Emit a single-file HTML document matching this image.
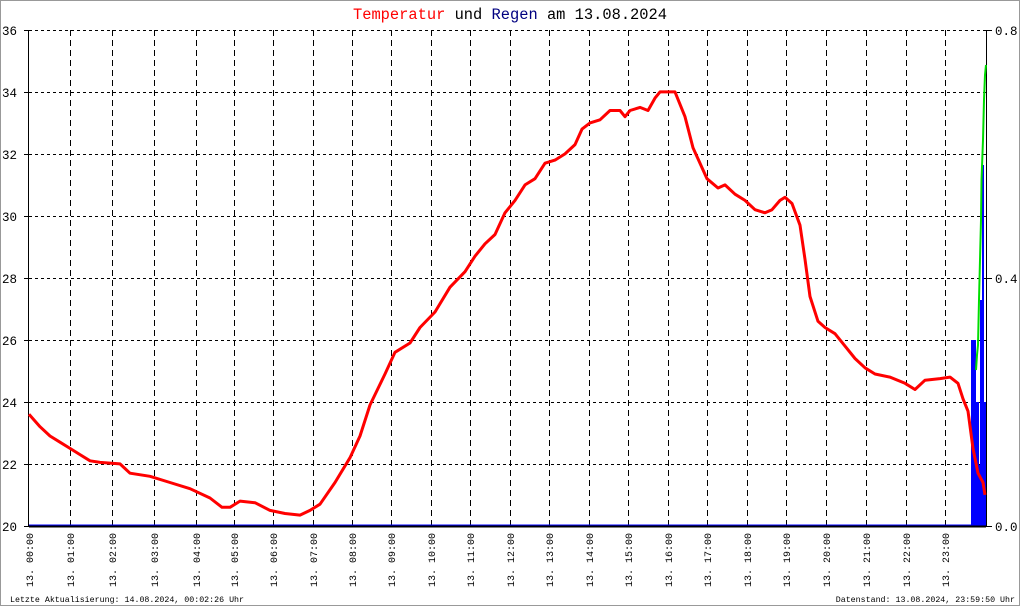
<!DOCTYPE html>
<html><head><meta charset="utf-8"><style>
html,body{margin:0;padding:0;background:#fff}
svg{display:block}
text{font-family:"Liberation Mono","DejaVu Sans Mono",monospace}
</style></head><body>
<svg width="1020" height="606" viewBox="0 0 1020 606" xmlns="http://www.w3.org/2000/svg">
<rect x="0.5" y="0.5" width="1019" height="605" fill="#fff" stroke="#999"/>
<text x="510" y="19" text-anchor="middle" font-size="15.4"><tspan fill="#ff0000">Temperatur</tspan> und <tspan fill="#000080">Regen</tspan> am 13.08.2024</text>
<g stroke="#000" stroke-width="1" stroke-dasharray="3,3" fill="none">
<path d="M29 30.5H986M29 92.5H986M29 154.5H986M29 216.5H986M29 278.5H986M29 340.5H986M29 402.5H986M29 464.5H986"/>
</g>
<g stroke="#000" stroke-width="1" stroke-dasharray="6,4" fill="none">
<path d="M70.5 30V526M112.5 30V526M154.5 30V526M196.5 30V526M234.5 30V526M273.5 30V526M313.5 30V526M352.5 30V526M391.5 30V526M431.5 30V526M470.5 30V526M510.5 30V526M549.5 30V526M589.5 30V526M628.5 30V526M668.5 30V526M707.5 30V526M747.5 30V526M786.5 30V526M826.5 30V526M866.5 30V526M906.5 30V526M945.5 30V526"/>
</g>
<g stroke="#000" stroke-width="1">
<line x1="28.5" y1="30" x2="28.5" y2="527"/>
<line x1="986.5" y1="30" x2="986.5" y2="527"/>
<path d="M24 30.5H29M24 92.5H29M24 154.5H29M24 216.5H29M24 278.5H29M24 340.5H29M24 402.5H29M24 464.5H29M24 526.5H29"/>
<path d="M986 30.5H992M986 278.5H992M986 526.5H992"/>
</g>
<g font-size="12.5" fill="#000">
<text x="2" y="35">36</text><text x="2" y="97">34</text><text x="2" y="159">32</text><text x="2" y="221">30</text><text x="2" y="283">28</text><text x="2" y="345">26</text><text x="2" y="407">24</text><text x="2" y="469">22</text><text x="2" y="531">20</text>
<text x="995" y="35">0.8</text><text x="995" y="283">0.4</text><text x="995" y="531">0.0</text>
</g>
<g fill="#0000ff">
<rect x="971" y="340" width="5" height="186"/>
<rect x="976" y="402" width="3" height="124"/>
<rect x="979" y="465" width="2" height="61"/>
<rect x="980" y="300" width="2" height="226"/>
<rect x="982" y="165" width="2" height="361"/>
<rect x="984" y="402" width="2" height="124"/>
</g>
<polyline fill="none" stroke="#00dd00" stroke-width="2" points="976,370 977,355 978,345 979,300 980,260 981,220 981.5,180 983,140 984,100 985,75 986,65"/>
<line x1="29" y1="525" x2="986" y2="525" stroke="#0000ff" stroke-width="1"/>
<line x1="29" y1="526.5" x2="986" y2="526.5" stroke="#000" stroke-width="2"/>
<polyline fill="none" stroke="#ff0000" stroke-width="3" stroke-linejoin="round" points="29,414.3 40,426.7 50,436 60,442.2 70,448.4 80,454.6 90,460.8 100,462.4 120,463.9 130,473.2 150,476.3 170,482.5 190,488.7 210,498 222,507.3 230,507.3 240,501.1 255,502.7 270,510.4 285,513.5 300,515.1 310,510.4 320,504.2 335,482.5 350,457.7 360,436 370,405 385,374 395,352.3 410,343 420,327.5 435,312 450,287.2 465,271.7 475,256.2 485,243.8 495,234.5 505,212.8 515,200.4 525,184.9 535,178.7 545,163.2 555,160.1 565,153.9 575,144.6 582,129.1 590,122.9 600,119.8 610,110.5 620,110.5 625,116.7 630,110.5 640,107.4 648,110.5 655,98.1 660,91.9 670,91.9 675,91.9 685,116.7 693,147.7 700,163.2 707,178.7 718,188 725,184.9 735,194.2 745,200.4 755,209.7 765,212.8 772,209.7 780,200.4 785,197.3 792,203.5 800,225.2 805,259.3 810,296.5 818,321.3 825,327.5 835,333.7 845,346.1 855,358.5 865,367.8 875,374 890,377.1 905,383.3 915,389.5 925,380.2 940,378.6 950,377.1 958,383.3 963,398.8 968,411.2 973,448.4 978,473.2 983,482.5 985,494.9"/>
<g font-size="10" fill="#000">
<text transform="translate(33,587) rotate(-90)">13. 00:00</text>
<text transform="translate(74,587) rotate(-90)">13. 01:00</text>
<text transform="translate(116,587) rotate(-90)">13. 02:00</text>
<text transform="translate(158,587) rotate(-90)">13. 03:00</text>
<text transform="translate(200,587) rotate(-90)">13. 04:00</text>
<text transform="translate(238,587) rotate(-90)">13. 05:00</text>
<text transform="translate(277,587) rotate(-90)">13. 06:00</text>
<text transform="translate(317,587) rotate(-90)">13. 07:00</text>
<text transform="translate(356,587) rotate(-90)">13. 08:00</text>
<text transform="translate(395,587) rotate(-90)">13. 09:00</text>
<text transform="translate(435,587) rotate(-90)">13. 10:00</text>
<text transform="translate(474,587) rotate(-90)">13. 11:00</text>
<text transform="translate(514,587) rotate(-90)">13. 12:00</text>
<text transform="translate(553,587) rotate(-90)">13. 13:00</text>
<text transform="translate(593,587) rotate(-90)">13. 14:00</text>
<text transform="translate(632,587) rotate(-90)">13. 15:00</text>
<text transform="translate(672,587) rotate(-90)">13. 16:00</text>
<text transform="translate(711,587) rotate(-90)">13. 17:00</text>
<text transform="translate(751,587) rotate(-90)">13. 18:00</text>
<text transform="translate(790,587) rotate(-90)">13. 19:00</text>
<text transform="translate(830,587) rotate(-90)">13. 20:00</text>
<text transform="translate(870,587) rotate(-90)">13. 21:00</text>
<text transform="translate(910,587) rotate(-90)">13. 22:00</text>
<text transform="translate(949,587) rotate(-90)">13. 23:00</text>
</g>
<g font-size="8.3" fill="#000">
<text x="10" y="602">Letzte Aktualisierung: 14.08.2024, 00:02:26 Uhr</text>
<text x="1015" y="602" text-anchor="end">Datenstand: 13.08.2024, 23:59:50 Uhr</text>
</g>
</svg>
</body></html>
